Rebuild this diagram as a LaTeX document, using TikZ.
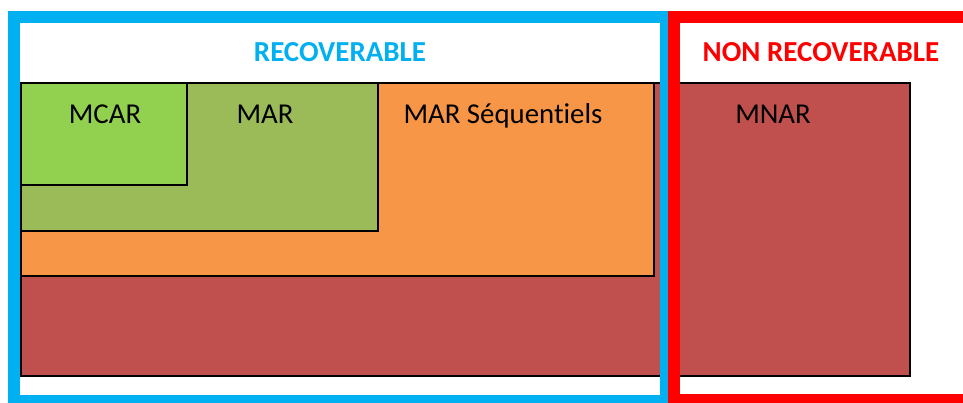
\documentclass[tikz,border=0pt]{standalone}
\usepackage{fontspec}
\setmainfont{Carlito}[Ligatures=NoCommon]
\definecolor{frameblue}{HTML}{00B0F0}
\definecolor{framered}{HTML}{FF0000}
\definecolor{mcargreen}{HTML}{92D050}
\definecolor{margreen}{HTML}{9BBB59}
\definecolor{seqorange}{HTML}{F79646}
\definecolor{mnarred}{HTML}{C0504D}
\begin{document}
\begin{tikzpicture}[x=1pt,y=-1pt,
  box/.style={draw=black,line width=1.6pt,anchor=north west,inner sep=0pt,outer sep=0pt},
  lbl/.style={anchor=base,inner sep=0pt,font=\fontsize{28.8}{34}\selectfont},
  title/.style={anchor=base,inner sep=0pt,font=\fontsize{29}{34}\selectfont\bfseries},
  frame/.style={line width=12pt}]
\clip (0,0) rectangle (963,402);
\fill[white] (0,0) rectangle (963,402);
% boxes
\node[box,fill=mnarred,minimum width=889pt,minimum height=293pt] (mnarbox) at (21,83) {};
\node[box,fill=seqorange,minimum width=633pt,minimum height=193pt] (seqbox) at (21,83) {};
\node[box,fill=margreen,minimum width=357pt,minimum height=148pt] (marbox) at (21,83) {};
\node[box,fill=mcargreen,minimum width=166pt,minimum height=102pt] (mcarbox) at (21,83) {};
% labels
\node[lbl] (mcar) at (105,123) {MCAR};
\node[lbl] (mar) at (265,123) {MAR};
\node[lbl] (seq) at (503,123) {MAR Séquentiels};
\node[lbl] (mnar) at (773,123) {MNAR};
% frames
\draw[frame,draw=frameblue] (14,17) rectangle (666,401);
\draw[frame,draw=framered] (674,17) rectangle (1000,400);
\node[title,text=frameblue] (rec) at (340,61) {RECOVERABLE};
\node[title,text=framered] (nonrec) at (821,61) {NON RECOVERABLE};
\end{tikzpicture}
\end{document}
